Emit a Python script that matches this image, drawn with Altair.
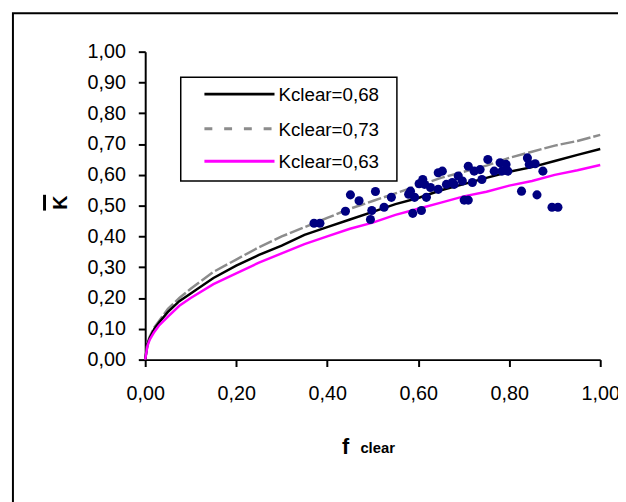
import altair as alt
import pandas as pd

# Curve abscissa (f_clear) and read-off curve values
f_grid = [0.0, 0.005, 0.01, 0.02, 0.03, 0.05, 0.075, 0.10, 0.15, 0.20, 0.25, 0.30, 0.35,
          0.40, 0.45, 0.50, 0.55, 0.60, 0.65, 0.70, 0.75, 0.80, 0.85, 0.90, 0.95, 1.00]
k_068 = [0.0, 0.05, 0.07, 0.10, 0.12, 0.155, 0.19, 0.215, 0.265, 0.305, 0.34, 0.37, 0.405,
         0.43, 0.455, 0.48, 0.505, 0.525, 0.55, 0.57, 0.59, 0.61, 0.625, 0.645, 0.665, 0.684]
k_073 = [0.0, 0.055, 0.075, 0.105, 0.125, 0.165, 0.20, 0.23, 0.285, 0.325, 0.365, 0.40, 0.43,
         0.46, 0.49, 0.515, 0.54, 0.565, 0.59, 0.61, 0.63, 0.655, 0.675, 0.695, 0.71, 0.73]
k_063 = [0.0, 0.045, 0.065, 0.09, 0.11, 0.14, 0.175, 0.20, 0.245, 0.28, 0.315, 0.345, 0.375,
         0.40, 0.425, 0.445, 0.47, 0.49, 0.51, 0.53, 0.545, 0.565, 0.58, 0.60, 0.615, 0.632]

# Observed points
obs_f = [0.371, 0.384, 0.440, 0.451, 0.470, 0.495, 0.498, 0.506, 0.525, 0.541, 0.579, 0.583,
         0.588, 0.592, 0.602, 0.607, 0.610, 0.614, 0.618, 0.627, 0.644, 0.653, 0.644, 0.662,
         0.675, 0.679, 0.688, 0.697, 0.701, 0.710, 0.710, 0.719, 0.723, 0.736, 0.740, 0.753,
         0.767, 0.780, 0.784, 0.793, 0.797, 0.827, 0.840, 0.844, 0.857, 0.861, 0.874, 0.894, 0.907]
obs_k = [0.443, 0.443, 0.482, 0.535, 0.516, 0.455, 0.484, 0.546, 0.495, 0.527, 0.537, 0.547,
         0.475, 0.527, 0.571, 0.484, 0.585, 0.569, 0.527, 0.559, 0.607, 0.612, 0.553, 0.569,
         0.575, 0.569, 0.596, 0.580, 0.518, 0.518, 0.628, 0.575, 0.612, 0.617, 0.585, 0.650,
         0.612, 0.639, 0.612, 0.634, 0.612, 0.547, 0.655, 0.634, 0.636, 0.535, 0.612, 0.495, 0.495]

legend_labels = ["Kclear=0,68", "Kclear=0,73", "Kclear=0,63"]
x_ticks = [0.0, 0.2, 0.4, 0.6, 0.8, 1.0]
y_ticks = [0.0, 0.1, 0.2, 0.3, 0.4, 0.5, 0.6, 0.7, 0.8, 0.9, 1.0]

curves = pd.DataFrame({"f": f_grid, "k068": k_068, "k073": k_073, "k063": k_063})
obs = pd.DataFrame({"f": obs_f, "k": obs_k})
one = alt.Data(values=[{}])

FONT = "Liberation Sans"
lab_expr = "replace(format(datum.value, '.2f'), '.', ',')"

xs = alt.Scale(domain=[0, 1], nice=False, zero=False)
ys = alt.Scale(domain=[0, 1], nice=False, zero=False)

x_axis = alt.Axis(values=x_ticks, labelExpr=lab_expr, title=None, grid=False,
                  domainColor="black", domainWidth=2, tickColor="black", tickWidth=2,
                  tickSize=7, labelFont=FONT, labelFontSize=20, labelColor="black",
                  labelPadding=17, labelFlush=False, labelOverlap=False, labelBound=False)
y_axis = alt.Axis(values=y_ticks, labelExpr=lab_expr, title=None, grid=False,
                  domainColor="black", domainWidth=2, tickColor="black", tickWidth=2,
                  tickSize=7, labelFont=FONT, labelFontSize=20, labelColor="black",
                  labelPadding=13, labelFlush=False, labelOverlap=False, labelBound=False)

X = lambda f: alt.X(f, scale=xs, axis=x_axis)
Y = lambda f: alt.Y(f, scale=ys, axis=y_axis)

frame = alt.Chart(one).mark_rect(fillOpacity=0, stroke="black", strokeWidth=2).encode(
    x=alt.value(-134), x2=alt.value(800), y=alt.value(-39), y2=alt.value(700))

base = alt.Chart(curves)
line68 = base.mark_line(color="black", strokeWidth=2.5).encode(x=X("f:Q"), y=Y("k068:Q"))
line73 = base.mark_line(color="#8c8c8c", strokeWidth=2.5, strokeDash=[14, 3]).encode(
    x=X("f:Q"), y=Y("k073:Q"))
line63 = base.mark_line(color="#ff00ff", strokeWidth=2.5).encode(x=X("f:Q"), y=Y("k063:Q"))

dots = alt.Chart(obs).mark_circle(size=85, color="#000080", opacity=1).encode(
    x=X("f:Q"), y=Y("k:Q"))

# Legend (decoration)
leg_box = alt.Chart(one).mark_rect(fill="white", stroke="black", strokeWidth=1.5).encode(
    x=alt.value(36), x2=alt.value(255), y=alt.value(26), y2=alt.value(131))
leg_rows = [43, 78, 111]
leg_styles = [dict(color="black"), dict(color="#8c8c8c", strokeDash=[8, 12]),
              dict(color="#ff00ff")]
leg_layers = []
for yy, lab, st in zip(leg_rows, legend_labels, leg_styles):
    leg_layers.append(alt.Chart(one).mark_rule(strokeWidth=3, **st).encode(
        x=alt.value(60), x2=alt.value(131), y=alt.value(yy)))
    leg_layers.append(alt.Chart(one).mark_text(
        text=lab, font=FONT, fontSize=19, color="black", align="left",
        baseline="middle").encode(x=alt.value(135), y=alt.value(yy + 1)))

# Axis titles (decoration)
t_f = alt.Chart(one).mark_text(text="f", font=FONT, fontSize=22, fontWeight="bold",
                               color="black", align="center", baseline="alphabetic").encode(
    x=alt.value(203), y=alt.value(408))
t_clear = alt.Chart(one).mark_text(text="clear", font=FONT, fontSize=15, fontWeight="bold",
                                   color="black", align="left", baseline="alphabetic").encode(
    x=alt.value(218), y=alt.value(407))
t_k = alt.Chart(one).mark_text(text="K", font=FONT, fontSize=20, fontWeight="bold",
                               color="black", align="center", baseline="middle",
                               angle=270).encode(x=alt.value(-85), y=alt.value(153))
t_bar = alt.Chart(one).mark_rule(color="black", strokeWidth=3).encode(
    x=alt.value(-102), y=alt.value(145), y2=alt.value(161))

chart = alt.layer(frame, leg_box, line73, line68, line63, dots, *leg_layers,
                  t_f, t_clear, t_k, t_bar).properties(
    width=461, height=312,
    autosize=alt.AutoSizeParams(type="none"),
    padding={"left": 139, "top": 41, "right": 18, "bottom": 141},
    background="white",
).configure_view(stroke=None)

chart.save("out.html", embed_options={"renderer": "svg", "actions": False})
